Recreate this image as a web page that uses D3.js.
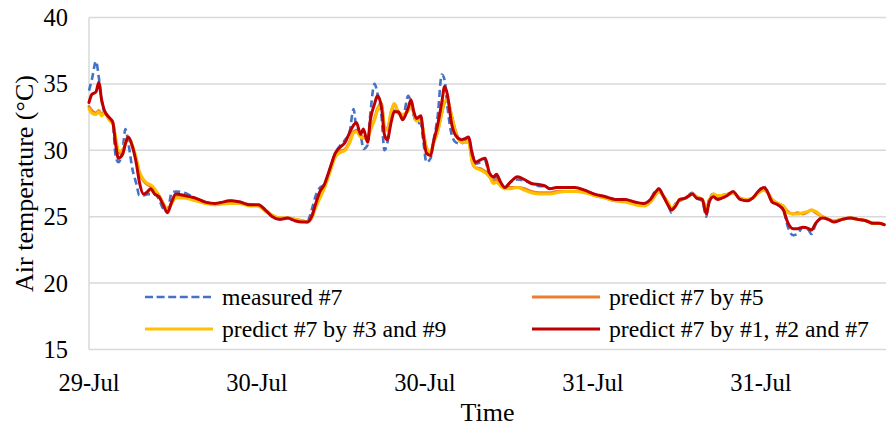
<!DOCTYPE html>
<html>
<head>
<meta charset="utf-8">
<script src="https://cdn.jsdelivr.net/npm/d3@7"></script>
<style>
  html, body { margin: 0; padding: 0; background: #fff; }
</style>
</head>
<body>
<svg id="chart" width="886" height="430" font-family="'Liberation Serif', 'Times New Roman', Times, 'DejaVu Serif', serif"></svg>
<script>
// Hours elapsed since the first reading
const hours = [
  0, 0.2, 0.5, 0.7, 0.9, 1.1, 1.5, 1.7, 1.9, 2.1, 2.4, 2.6, 2.8, 3.1, 3.4, 3.6, 3.9, 4.2, 4.4, 4.7,
  5.0, 5.3, 5.6, 5.9, 6.2, 6.8, 7.6, 8.3, 9.0, 10.1, 10.8, 11.5, 12.1, 12.6, 13.1, 13.6, 14.2, 14.7, 15.2, 15.6,
  15.9, 16.2, 16.5, 16.8, 17.2, 17.6, 17.9, 18.3, 18.6, 18.9, 19.1, 19.4, 19.6, 19.9, 20.1, 20.4, 20.6, 20.9, 21.1, 21.3,
  21.6, 21.8, 22.1, 22.4, 22.8, 23.0, 23.2, 23.4, 23.7, 23.9, 24.1, 24.4, 24.6, 24.9, 25.2, 25.4, 25.6, 25.9, 26.2, 26.6,
  26.9, 27.1, 27.4, 27.6, 28.0, 28.3, 28.6, 28.9, 29.1, 29.4, 29.7, 30.1, 30.6, 31.1, 31.6, 32.2, 32.6, 32.9, 33.4, 34.0,
  34.7, 35.4, 36.1, 36.9, 37.6, 38.3, 39.0, 39.6, 40.1, 40.5, 40.7, 41.0, 41.4, 41.6, 41.9, 42.2, 42.6, 43.1, 43.4, 43.8,
  44.1, 44.3, 44.6, 44.9, 45.2, 45.6, 46.0, 46.5, 47.0, 47.4, 47.8, 48.2, 48.4, 48.8, 49.2, 49.6, 49.9, 50.3, 50.6, 51.0,
  51.4, 51.6, 51.9, 52.4, 52.8, 53.2, 53.8, 54.4, 54.9, 55.5, 56.0, 56.4, 56.8
];

const measured7 = [
  34.5, 35.3, 36.7, 35.5, 33.8, 32.9, 32.3, 32.0, 29.6, 29.1, 30.0, 31.6, 30.6, 28.6, 27.4, 26.6, 26.6, 26.7, 26.7, 26.7,
  26.3, 25.6, 25.4, 26.8, 26.9, 26.8, 26.4, 26.1, 26.0, 26.2, 26.1, 25.9, 25.9, 25.5, 25.0, 24.8, 24.9, 24.7, 24.7, 24.7,
  25.5, 26.6, 27.2, 27.4, 28.6, 29.8, 30.3, 30.8, 31.3, 33.1, 31.6, 31.2, 30.1, 30.4, 32.8, 35.0, 34.3, 32.5, 30.0, 30.5,
  32.6, 33.0, 32.8, 32.4, 34.1, 33.6, 32.6, 32.1, 32.0, 30.5, 29.1, 29.4, 30.7, 32.5, 35.7, 35.3, 33.3, 31.2, 30.6, 30.5,
  30.8, 30.9, 29.7, 29.0, 29.1, 29.2, 28.0, 27.8, 28.0, 27.3, 27.2, 27.6, 27.8, 27.7, 27.5, 27.3, 27.3, 27.1, 27.2, 27.2,
  27.2, 27.0, 26.7, 26.5, 26.3, 26.3, 26.0, 25.9, 26.3, 27.0, 27.1, 26.6, 25.8, 25.3, 26.0, 26.2, 26.4, 26.8, 26.4, 26.2,
  25.0, 26.4, 26.7, 26.4, 26.5, 26.6, 26.8, 26.4, 26.2, 26.4, 26.9, 27.3, 27.0, 26.2, 25.9, 25.5, 24.3, 23.6, 23.7, 24.2,
  24.0, 23.7, 24.4, 25.0, 24.8, 24.6, 24.8, 24.9, 24.8, 24.7, 24.5, 24.5, 24.4
];

const predictBy5 = [
  33.3, 33.0, 32.8, 33.0, 32.7, 32.9, 32.3, 32.1, 30.8, 29.8, 29.8, 30.5, 30.9, 30.3, 29.2, 28.3, 27.7, 27.4, 27.3, 27.0,
  26.6, 26.0, 25.5, 26.0, 26.5, 26.5, 26.3, 26.1, 25.9, 26.1, 26.0, 25.9, 25.8, 25.5, 25.1, 24.9, 24.9, 24.8, 24.7, 24.6,
  24.9, 25.8, 26.5, 27.2, 28.4, 29.6, 29.9, 30.1, 30.6, 31.4, 31.5, 31.1, 31.0, 31.0, 31.6, 32.4, 33.1, 33.5, 31.8, 31.6,
  32.9, 33.5, 32.8, 32.6, 33.0, 33.3, 32.8, 32.2, 32.4, 31.3, 30.2, 29.8, 30.5, 31.4, 32.8, 33.6, 33.8, 32.6, 31.4, 30.6,
  30.6, 30.7, 29.0, 28.7, 28.6, 28.4, 28.2, 27.7, 27.8, 27.5, 27.2, 27.2, 27.2, 27.1, 26.9, 26.8, 26.8, 26.8, 26.9, 26.9,
  26.9, 26.9, 26.6, 26.4, 26.2, 26.2, 26.0, 25.9, 26.1, 26.7, 26.9, 26.6, 26.0, 25.6, 25.9, 26.3, 26.4, 26.7, 26.5, 26.3,
  25.6, 26.2, 26.7, 26.5, 26.6, 26.7, 26.8, 26.4, 26.3, 26.4, 26.8, 27.0, 26.9, 26.3, 26.0, 25.8, 25.4, 25.2, 25.3, 25.2,
  25.4, 25.5, 25.3, 25.0, 24.8, 24.7, 24.8, 24.9, 24.8, 24.7, 24.5, 24.5, 24.4
];

const predictBy3and9 = [
  33.1, 32.8, 32.7, 32.9, 32.6, 32.8, 32.2, 32.0, 31.0, 30.0, 29.9, 30.6, 31.0, 30.4, 29.3, 28.4, 27.8, 27.5, 27.4, 27.1,
  26.6, 26.0, 25.5, 26.0, 26.4, 26.4, 26.2, 26.0, 25.9, 26.0, 26.0, 25.8, 25.8, 25.4, 25.1, 24.9, 24.9, 24.8, 24.7, 24.6,
  24.9, 25.7, 26.4, 27.1, 28.3, 29.5, 29.8, 30.0, 30.5, 31.3, 31.4, 31.0, 30.9, 30.9, 31.5, 32.3, 33.0, 33.4, 31.7, 31.5,
  33.0, 33.5, 32.9, 32.7, 33.0, 33.4, 32.8, 32.2, 32.4, 31.3, 30.2, 29.8, 30.5, 31.4, 32.8, 33.7, 33.8, 32.6, 31.3, 30.6,
  30.6, 30.7, 29.0, 28.7, 28.5, 28.3, 28.0, 27.5, 27.6, 27.3, 27.1, 27.1, 27.2, 27.0, 26.8, 26.7, 26.7, 26.7, 26.8, 26.9,
  26.9, 26.8, 26.6, 26.4, 26.2, 26.1, 25.9, 25.8, 26.1, 26.7, 26.9, 26.6, 26.0, 25.6, 25.9, 26.3, 26.4, 26.7, 26.5, 26.3,
  25.6, 26.2, 26.7, 26.6, 26.6, 26.7, 26.8, 26.4, 26.3, 26.4, 26.8, 27.0, 26.9, 26.3, 26.0, 25.8, 25.3, 25.2, 25.2, 25.3,
  25.4, 25.5, 25.4, 25.0, 24.8, 24.7, 24.8, 24.9, 24.8, 24.7, 24.5, 24.5, 24.4
];

const predictBy1_2and7 = [
  33.6, 34.2, 34.4, 35.1, 33.8, 33.0, 32.4, 32.1, 30.5, 29.4, 29.7, 30.5, 31.0, 30.3, 28.9, 27.6, 26.7, 26.9, 27.1, 26.7,
  26.5, 25.9, 25.3, 26.1, 26.7, 26.6, 26.4, 26.1, 26.0, 26.2, 26.1, 25.9, 25.9, 25.5, 25.0, 24.8, 24.9, 24.7, 24.6, 24.6,
  25.0, 26.0, 26.9, 27.4, 28.6, 29.8, 30.2, 30.6, 31.3, 31.9, 32.1, 31.2, 31.6, 30.6, 32.3, 33.5, 34.1, 33.2, 31.2, 30.8,
  32.2, 32.9, 32.9, 32.3, 33.2, 33.8, 32.9, 32.4, 32.6, 31.0, 29.8, 29.6, 30.6, 31.9, 33.6, 34.8, 34.2, 32.0, 31.1, 30.8,
  30.9, 31.0, 29.6, 29.1, 29.3, 29.4, 28.3, 28.0, 28.2, 27.6, 27.2, 27.6, 28.0, 27.8, 27.5, 27.4, 27.3, 27.1, 27.2, 27.2,
  27.2, 27.0, 26.7, 26.5, 26.3, 26.3, 26.1, 26.0, 26.3, 26.9, 27.1, 26.6, 25.8, 25.5, 25.8, 26.3, 26.4, 26.7, 26.4, 26.3,
  25.2, 26.1, 26.5, 26.3, 26.4, 26.6, 26.9, 26.3, 26.2, 26.4, 26.9, 27.2, 27.0, 26.1, 25.9, 25.5, 24.6, 24.1, 24.1, 24.2,
  24.1, 24.0, 24.5, 24.9, 24.8, 24.6, 24.8, 24.9, 24.8, 24.7, 24.5, 24.5, 24.4
];

const seriesNames = ["measured #7", "predict #7 by #5", "predict #7 by #3 and #9", "predict #7 by #1, #2 and #7"];
const seriesColors = ["#4472C4", "#ED7D31", "#FFC000", "#C00000"];

const yTicks = [15, 20, 25, 30, 35, 40];
const xTickHours = [0, 12, 24, 36, 48];
const xTickLabels = ["29-Jul", "30-Jul", "30-Jul", "31-Jul", "31-Jul"];

const yTitle = "Air temperature (°C)";
const xTitle = "Time";

// ---- layout ----
const plot = { left: 89, right: 886, top: 17.5, bottom: 349.5 };
const hourSpan = 56.93;

const svg = d3.select("#chart");

const x = d3.scaleLinear().domain([0, hourSpan]).range([plot.left, plot.right]);
const y = d3.scaleLinear().domain([15, 40]).range([plot.bottom, plot.top]);

// horizontal gridlines (bottom one doubles as the category axis line)
svg.append("g")
  .selectAll("line")
  .data(yTicks)
  .join("line")
  .attr("x1", plot.left)
  .attr("x2", plot.right)
  .attr("y1", d => y(d))
  .attr("y2", d => y(d))
  .attr("stroke", "#d9d9d9")
  .attr("stroke-width", 1.5);

// value axis line
svg.append("line")
  .attr("x1", plot.left).attr("x2", plot.left)
  .attr("y1", y(40)).attr("y2", y(15))
  .attr("stroke", "#d9d9d9")
  .attr("stroke-width", 1.5);

// y tick labels
svg.append("g")
  .selectAll("text")
  .data(yTicks)
  .join("text")
  .attr("x", 68)
  .attr("y", d => y(d))
  .attr("dy", "0.35em")
  .attr("text-anchor", "end")
  .attr("font-size", 24.5)
  .text(d => d);

// x tick labels
svg.append("g")
  .selectAll("text")
  .data(xTickHours)
  .join("text")
  .attr("x", d => x(d))
  .attr("y", 382)
  .attr("dy", "0.35em")
  .attr("text-anchor", "middle")
  .attr("font-size", 24.5)
  .text((d, i) => xTickLabels[i]);

// axis titles
svg.append("text")
  .attr("transform", `translate(24, ${(plot.top + plot.bottom) / 2}) rotate(-90)`)
  .attr("text-anchor", "middle")
  .attr("dy", "0.35em")
  .attr("font-size", 26)
  .text(yTitle);

svg.append("text")
  .attr("x", (plot.left + plot.right) / 2)
  .attr("y", 412)
  .attr("dy", "0.35em")
  .attr("text-anchor", "middle")
  .attr("font-size", 26)
  .text(xTitle);

// series lines
const seriesValues = [measured7, predictBy5, predictBy3and9, predictBy1_2and7];
const line = d3.line()
  .x(d => x(d[0]))
  .y(d => y(d[1]))
  .curve(d3.curveMonotoneX);

const lines = svg.append("g")
  .attr("fill", "none")
  .attr("stroke-linejoin", "round");

seriesValues.forEach((vals, i) => {
  lines.append("path")
    .datum(hours.map((h, k) => [h, vals[k]]))
    .attr("d", line)
    .attr("stroke", seriesColors[i])
    .attr("stroke-width", i === 0 ? 2.6 : 3)
    .attr("stroke-dasharray", i === 0 ? "7,4" : null)
    .attr("stroke-linecap", i === 0 ? "butt" : "round");
});

// legend (two columns, two rows)
const legendCols = [145, 532];
const legendRows = [297, 329];
const legend = svg.append("g");
seriesNames.forEach((name, i) => {
  const cx = legendCols[i % 2];
  const cy = legendRows[Math.floor(i / 2)];
  legend.append("line")
    .attr("x1", cx).attr("x2", cx + 68)
    .attr("y1", cy).attr("y2", cy)
    .attr("stroke", seriesColors[i])
    .attr("stroke-width", i === 0 ? 2.6 : 3)
    .attr("stroke-dasharray", i === 0 ? "8,3.6" : null);
  legend.append("text")
    .attr("x", cx + 77)
    .attr("y", cy)
    .attr("dy", "0.35em")
    .attr("font-size", 23.7)
    .text(name);
});
</script>
</body>
</html>
